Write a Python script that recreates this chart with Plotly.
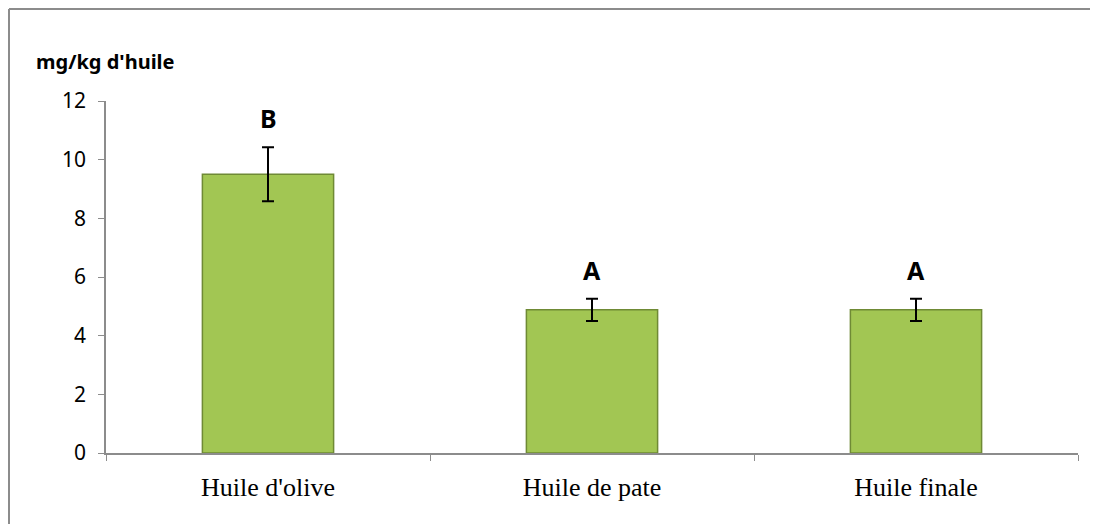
import plotly.graph_objects as go

categories = ["Huile d'olive", "Huile de pate", "Huile finale"]
values = [9.5, 4.88, 4.88]
errors = [0.92, 0.38, 0.38]
letters = ["B", "A", "A"]
y_ticks = [0, 2, 4, 6, 8, 10, 12]

fig = go.Figure()
fig.add_trace(go.Bar(
    x=categories, y=values, width=0.405,
    marker=dict(color="#A2C653", line=dict(color="#6F8A35", width=1.5)),
    error_y=dict(type="data", array=errors, visible=True, color="black", thickness=2, width=6),
    showlegend=False,
))

for c, v, e, t in zip(categories, values, errors, letters):
    fig.add_annotation(x=c, y=v + e, text="<b>%s</b>" % t, showarrow=False,
                       yanchor="bottom", yshift=10,
                       font=dict(family="Noto Sans", size=25, color="black"))

fig.add_annotation(xref="paper", yref="paper", x=-0.074, y=1.111, xanchor="left", yanchor="middle",
                   text="<b>mg/kg d'huile</b>", showarrow=False,
                   font=dict(family="Noto Sans", size=20, color="black"))

# outer border (left and top edges)
fig.add_shape(type="line", xref="paper", yref="paper", x0=-0.0998, x1=-0.0998, y0=-0.5, y1=1.2614,
              line=dict(color="#8C8C8C", width=2))
fig.add_shape(type="line", xref="paper", yref="paper", x0=-0.0998, x1=1.5, y0=1.2614, y1=1.2614,
              line=dict(color="#8C8C8C", width=2))

fig.update_layout(
    width=1098, height=524,
    margin=dict(l=98, r=28, t=93, b=79),
    paper_bgcolor="white", plot_bgcolor="white",
    bargap=0.6,
    xaxis=dict(showline=True, linecolor="#8C8C8C", linewidth=1.5, ticks="outside",
               tickson="boundaries", ticklen=6, tickcolor="#8C8C8C", showgrid=False,
               ticklabelstandoff=10,
               tickfont=dict(family="Liberation Serif", size=26, color="black")),
    yaxis=dict(range=[0, 12], tickvals=y_ticks, showline=True, linecolor="#8C8C8C", linewidth=1.5,
               ticks="outside", ticklen=6, tickcolor="#8C8C8C", showgrid=False, zeroline=False,
               ticklabelstandoff=8,
               tickfont=dict(family="Noto Sans", size=21, color="black")),
)

fig.write_html("out.html")
